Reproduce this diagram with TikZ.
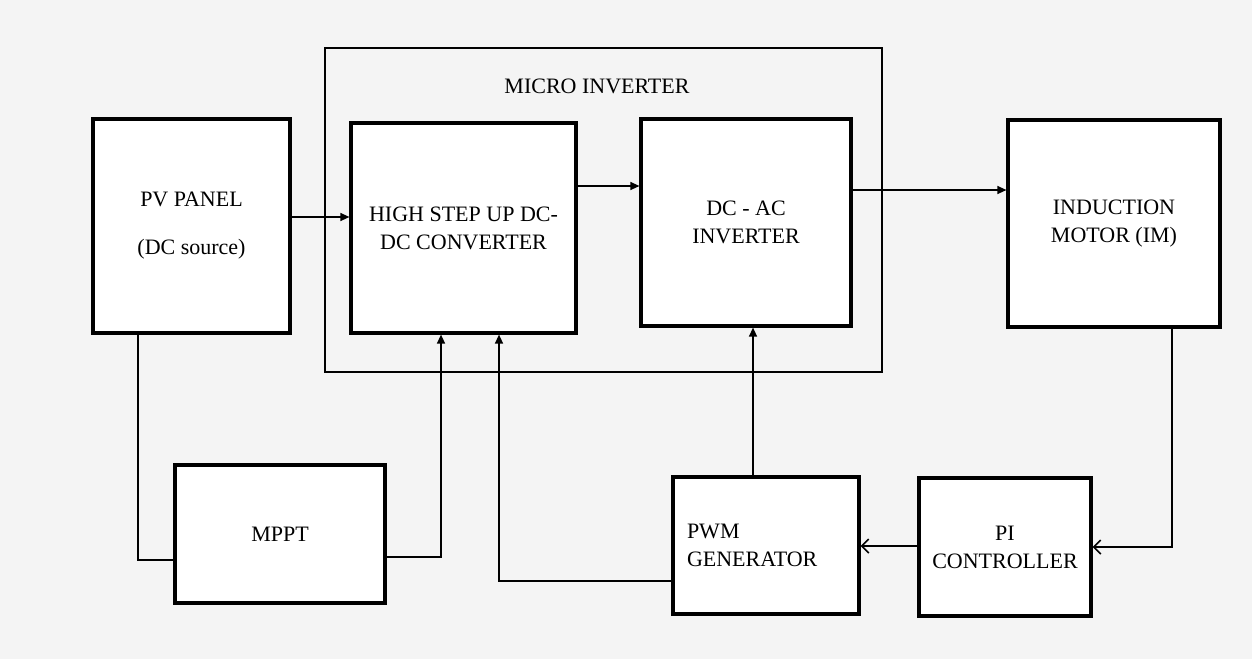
\documentclass[tikz,border=0pt]{standalone}
\usepackage{fontspec}
\setmainfont{Liberation Serif}
\usetikzlibrary{arrows.meta}
\definecolor{bg}{RGB}{244,244,244}
\begin{document}
\begin{tikzpicture}[x=1pt,y=-1pt,
  blk/.style={draw,line width=3.2pt,fill=white,inner sep=0pt,align=center,
    font=\fontsize{22}{28}\selectfont},
  conn/.style={line width=1.3pt},
  arr/.style={conn,-{Triangle[length=9pt,width=8pt]}},
  oarr/.style={conn,-{Straight Barb[length=7pt,width=14pt,line width=1.6pt]}},
  lbl/.style={font=\fontsize{22}{28}\selectfont}]
\fill[bg] (0,0) rectangle (1252,659);
\useasboundingbox (0,0) rectangle (1252,659);
% micro inverter frame
\node[draw,line width=2.4pt,minimum width=557pt,minimum height=324pt,inner sep=0pt] (micro) at (603.5,210) {};
\node[lbl] (microt) at (597,86) {MICRO INVERTER};
% blocks
\node[blk,minimum width=197pt,minimum height=214pt] (pv) at (191.5,226) {PV PANEL\\[20pt](DC source)};
\node[blk,minimum width=225pt,minimum height=210pt] (hsu) at (463.5,228) {HIGH STEP UP DC-\\DC CONVERTER};
\node[blk,minimum width=210pt,minimum height=207pt] (dcac) at (746,222.5) {DC - AC\\INVERTER};
\node[blk,minimum width=212pt,minimum height=207pt] (im) at (1114,223.5) {INDUCTION\\MOTOR (IM)};
\node[blk,minimum width=210pt,minimum height=138pt] (mppt) at (280,534) {MPPT};
\node[blk,minimum width=186pt,minimum height=137pt,text width=158pt,inner xsep=14pt,align=left] (pwm) at (766,545.5) {PWM\\GENERATOR};
\node[blk,minimum width=172pt,minimum height=138pt] (pi) at (1005,547) {PI\\CONTROLLER};
% connectors
\draw[arr] (pv.east |- 0,217) -- (hsu.west |- 0,217);
\draw[arr] (hsu.east |- 0,186) -- (dcac.west |- 0,186);
\draw[arr] (dcac.east |- 0,190) -- (im.west |- 0,190);
\draw[conn] (pv.south -| 138,0) -- (138,560) -- (mppt.west |- 0,560);
\draw[arr] (mppt.east |- 0,557) -- (441,557) -- (hsu.south -| 441,0);
\draw[arr] (pwm.west |- 0,581) -- (499,581) -- (hsu.south -| 499,0);
\draw[arr] (pwm.north -| 753,0) -- (dcac.south -| 753,0);
\draw[oarr] (im.south -| 1172,0) -- (1172,547) -- (pi.east |- 0,547);
\draw[oarr] (pi.west |- 0,546) -- (pwm.east |- 0,546);
\end{tikzpicture}
\end{document}
